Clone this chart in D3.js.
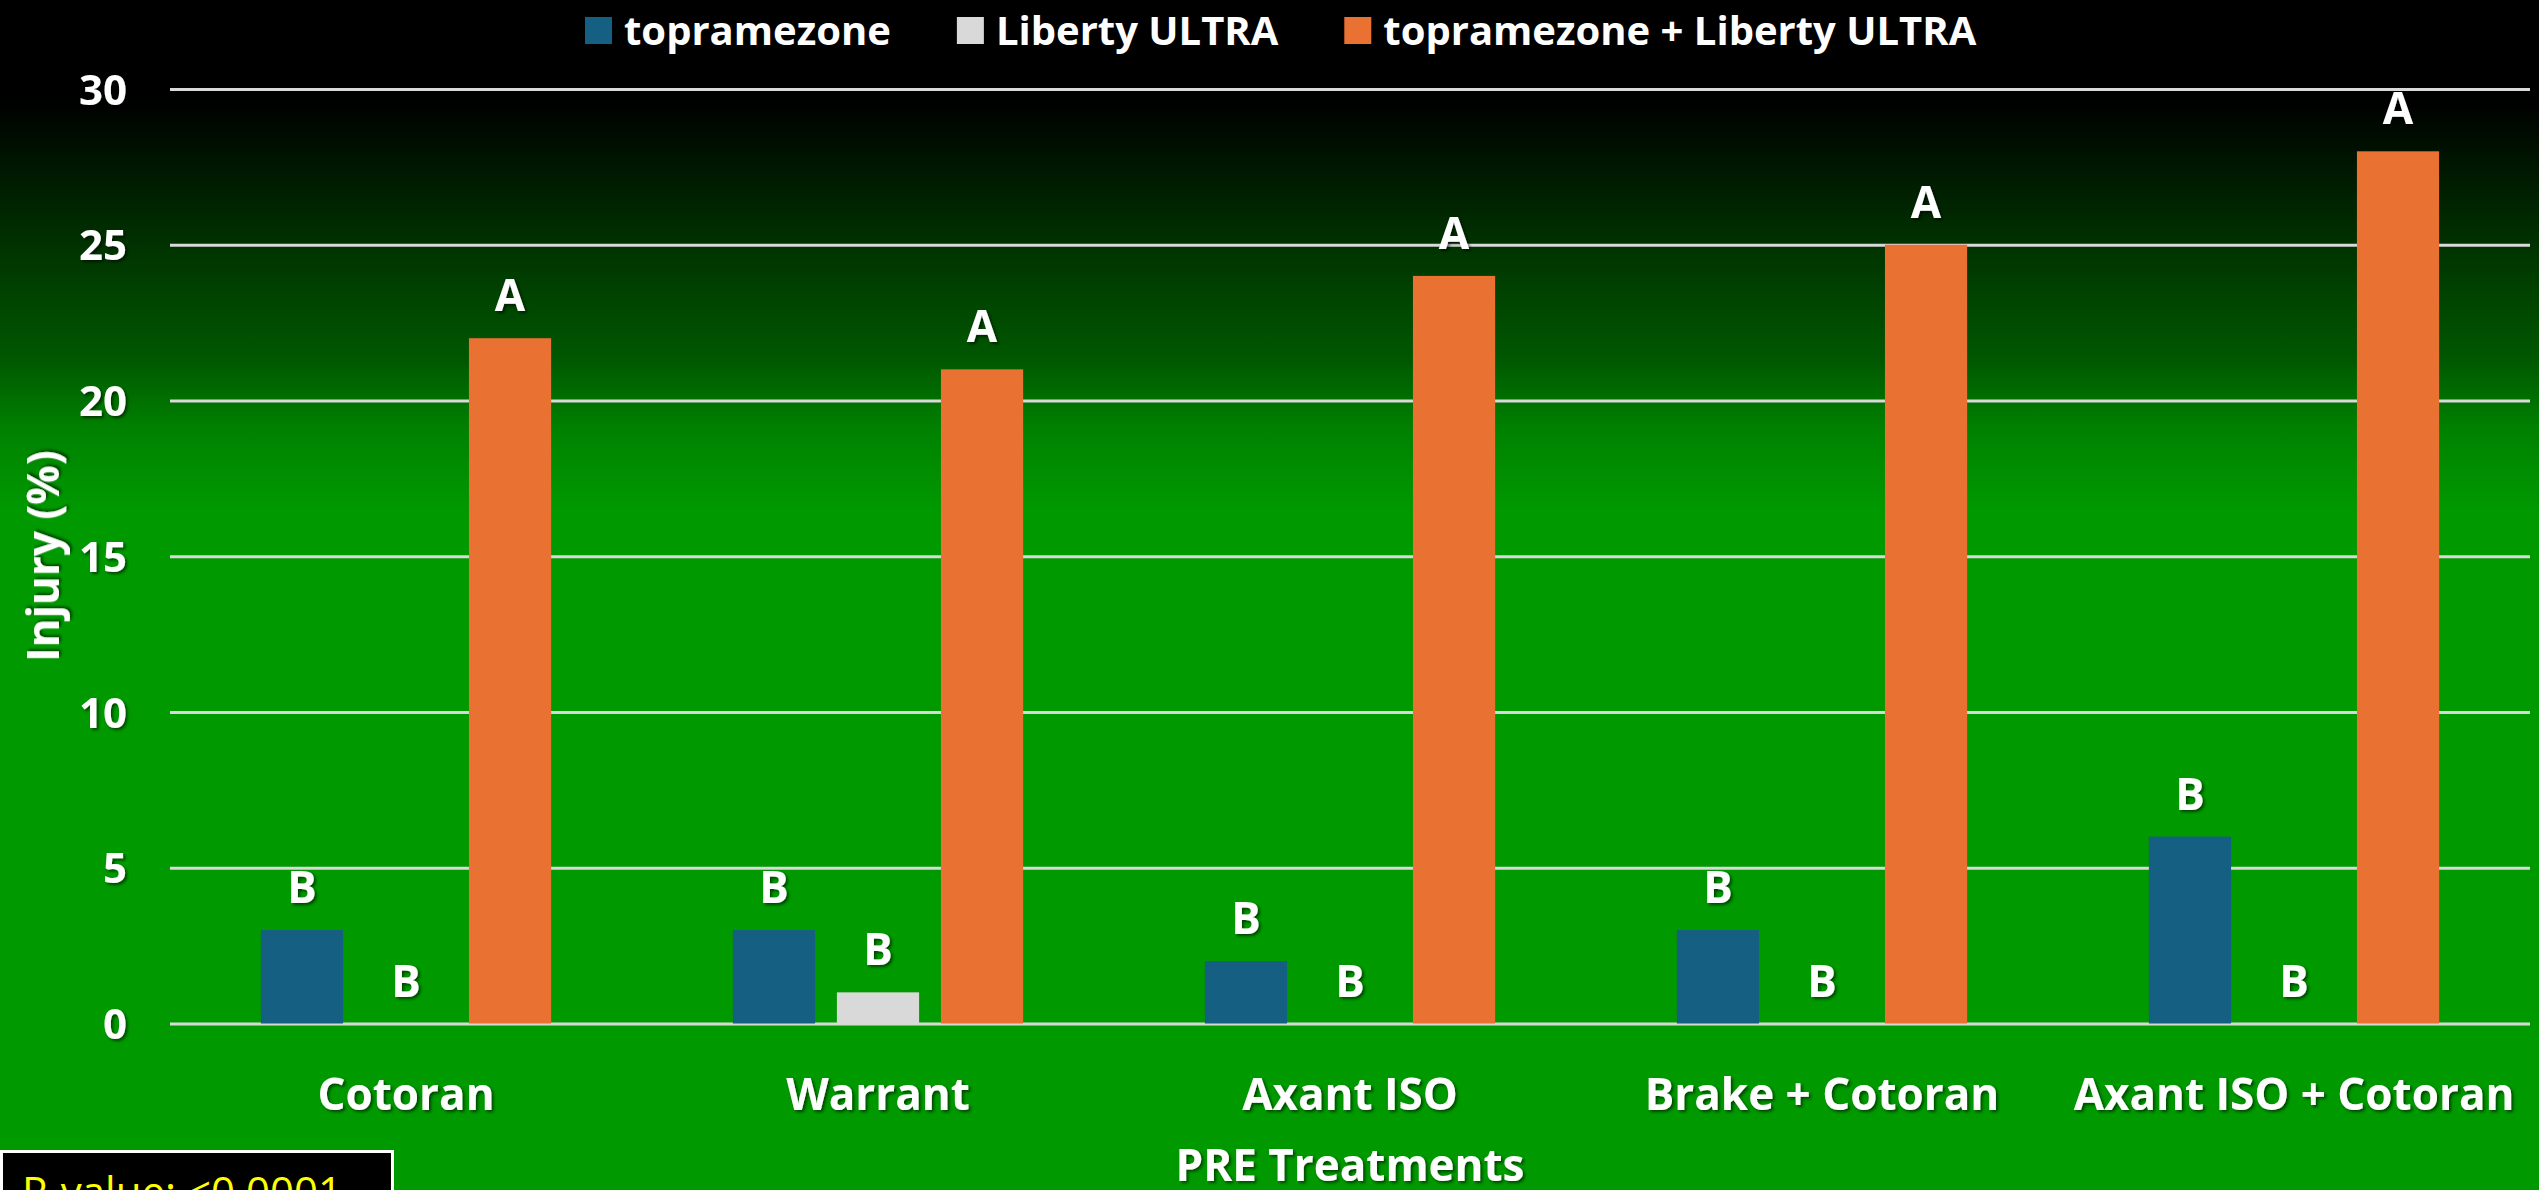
<!DOCTYPE html>
<html>
<head>
<meta charset="utf-8">
<script src="https://cdn.jsdelivr.net/npm/d3@7"></script>
<style>
  html, body { margin: 0; padding: 0; background: #000; }
  svg { display: block; }
  text { font-family: "Open Sans", "DejaVu Sans", sans-serif; }
</style>
</head>
<body>
<svg id="chart" width="2539" height="1190"></svg>
<script>
// ---- data ----
const categories = ["Cotoran", "Warrant", "Axant ISO", "Brake + Cotoran", "Axant ISO + Cotoran"];
const seriesNames = ["topramezone", "Liberty ULTRA", "topramezone + Liberty ULTRA"];
const topramezone = [3, 3, 2, 3, 6];
const libertyUltra = [0, 1, 0, 0, 0];
const combination = [22, 21, 24, 25, 28];
const topramezoneLetters = ["B", "B", "B", "B", "B"];
const libertyLetters = ["B", "B", "B", "B", "B"];
const combinationLetters = ["A", "A", "A", "A", "A"];
const yTicks = [0, 5, 10, 15, 20, 25, 30];
const yTitle = "Injury (%)";
const xTitle = "PRE Treatments";
const pValueText = "P-value: <0.0001";

const seriesColors = ["#156082", "#D9D9D9", "#E97132"];
const seriesValues = [topramezone, libertyUltra, combination];
const seriesLetters = [topramezoneLetters, libertyLetters, combinationLetters];

// ---- setup ----
const W = 2539, H = 1190;
const svg = d3.select("#chart");
const defs = svg.append("defs");

const grad = defs.append("linearGradient")
  .attr("id", "bg").attr("x1", 0).attr("y1", 0).attr("x2", 0).attr("y2", H)
  .attr("gradientUnits", "userSpaceOnUse");
[[0, "#000000"], [100, "#000000"], [250, "#003400"], [360, "#005800"], [430, "#008200"], [510, "#009900"], [H, "#009900"]]
  .forEach(([y, c]) => grad.append("stop").attr("offset", y / H).attr("stop-color", c));

const shadow = defs.append("filter").attr("id", "shadow")
  .attr("x", "-20%").attr("y", "-20%").attr("width", "140%").attr("height", "140%");
shadow.append("feDropShadow").attr("dx", 2).attr("dy", 2).attr("stdDeviation", 1.5)
  .attr("flood-color", "#000").attr("flood-opacity", 0.55);

svg.append("rect").attr("width", W).attr("height", H).attr("fill", "url(#bg)");

const plot = { left: 170, right: 2530, top: 89, bottom: 1023.5 };

const y = d3.scaleLinear().domain([0, 30]).range([plot.bottom, plot.top]);
const x0 = d3.scaleBand().domain(categories).range([plot.left, plot.right])
  .paddingInner(0.385).paddingOuter(0.1925);
const x1 = d3.scaleBand().domain(seriesNames).range([0, x0.bandwidth()]).paddingInner(0.21);

// ---- y axis with gridlines ----
const yAxis = svg.append("g").attr("transform", `translate(${plot.left},0)`)
  .call(d3.axisLeft(y).tickValues(yTicks).tickSize(-(plot.right - plot.left)).tickPadding(43));
yAxis.select(".domain").remove();
yAxis.selectAll(".tick line").attr("stroke", "#D9D9D9").attr("stroke-width", 3);
yAxis.selectAll(".tick text")
  .attr("fill", "#fff").attr("font-size", 42).attr("font-weight", 700)
  .attr("font-family", "'Open Sans', sans-serif")
  .attr("dy", "0.36em")
  .attr("filter", "url(#shadow)");

// ---- bars ----
const groups = svg.append("g").selectAll("g").data(categories).join("g")
  .attr("transform", d => `translate(${x0(d)},0)`);

seriesNames.forEach((s, si) => {
  groups.append("rect")
    .attr("x", x1(s))
    .attr("width", x1.bandwidth())
    .attr("y", (d, i) => y(seriesValues[si][i]))
    .attr("height", (d, i) => plot.bottom - y(seriesValues[si][i]))
    .attr("fill", seriesColors[si]);
  groups.append("text")
    .attr("x", x1(s) + x1.bandwidth() / 2)
    .attr("y", (d, i) => y(seriesValues[si][i]) - 27)
    .attr("text-anchor", "middle")
    .attr("fill", "#fff").attr("font-size", 44).attr("font-weight", 700)
    .attr("filter", "url(#shadow)")
    .text((d, i) => seriesLetters[si][i]);
});

// ---- x axis ----
const xAxis = svg.append("g").attr("transform", `translate(0,${plot.bottom})`)
  .call(d3.axisBottom(x0).tickSize(0).tickPadding(0));
xAxis.select(".domain").remove();
xAxis.selectAll(".tick text")
  .attr("y", 1110 - plot.bottom).attr("dy", 0)
  .attr("fill", "#fff").attr("font-size", 44).attr("font-weight", 700)
  .attr("font-family", "'Open Sans', sans-serif")
  .attr("filter", "url(#shadow)");

// ---- axis titles ----
svg.append("text")
  .attr("transform", `translate(59,${(plot.top + plot.bottom) / 2}) rotate(-90)`)
  .attr("text-anchor", "middle")
  .attr("fill", "#fff").attr("font-size", 44).attr("font-weight", 700)
  .attr("filter", "url(#shadow)")
  .text(yTitle);

svg.append("text")
  .attr("x", (plot.left + plot.right) / 2).attr("y", 1181)
  .attr("text-anchor", "middle")
  .attr("fill", "#fff").attr("font-size", 44).attr("font-weight", 700)
  .attr("filter", "url(#shadow)")
  .text(xTitle);

// ---- legend ----
const legend = svg.append("g");
let lx = 585;
seriesNames.forEach((s, si) => {
  legend.append("rect").attr("x", lx).attr("y", 17).attr("width", 27).attr("height", 27)
    .attr("fill", seriesColors[si]);
  const t = legend.append("text").attr("x", lx + 39).attr("y", 45)
    .attr("fill", "#fff").attr("font-size", 40).attr("font-weight", 700)
    .text(s);
  lx = lx + 39 + t.node().getComputedTextLength() + 66;
});

// ---- p-value box ----
svg.append("rect").attr("x", 1.5).attr("y", 1151.5).attr("width", 391).attr("height", 80)
  .attr("fill", "#000").attr("stroke", "#fff").attr("stroke-width", 3);
svg.append("text").attr("x", 22).attr("y", 1207)
  .attr("fill", "#FFFF00").attr("font-size", 42).attr("font-weight", 400)
  .text(pValueText);
</script>
</body>
</html>
